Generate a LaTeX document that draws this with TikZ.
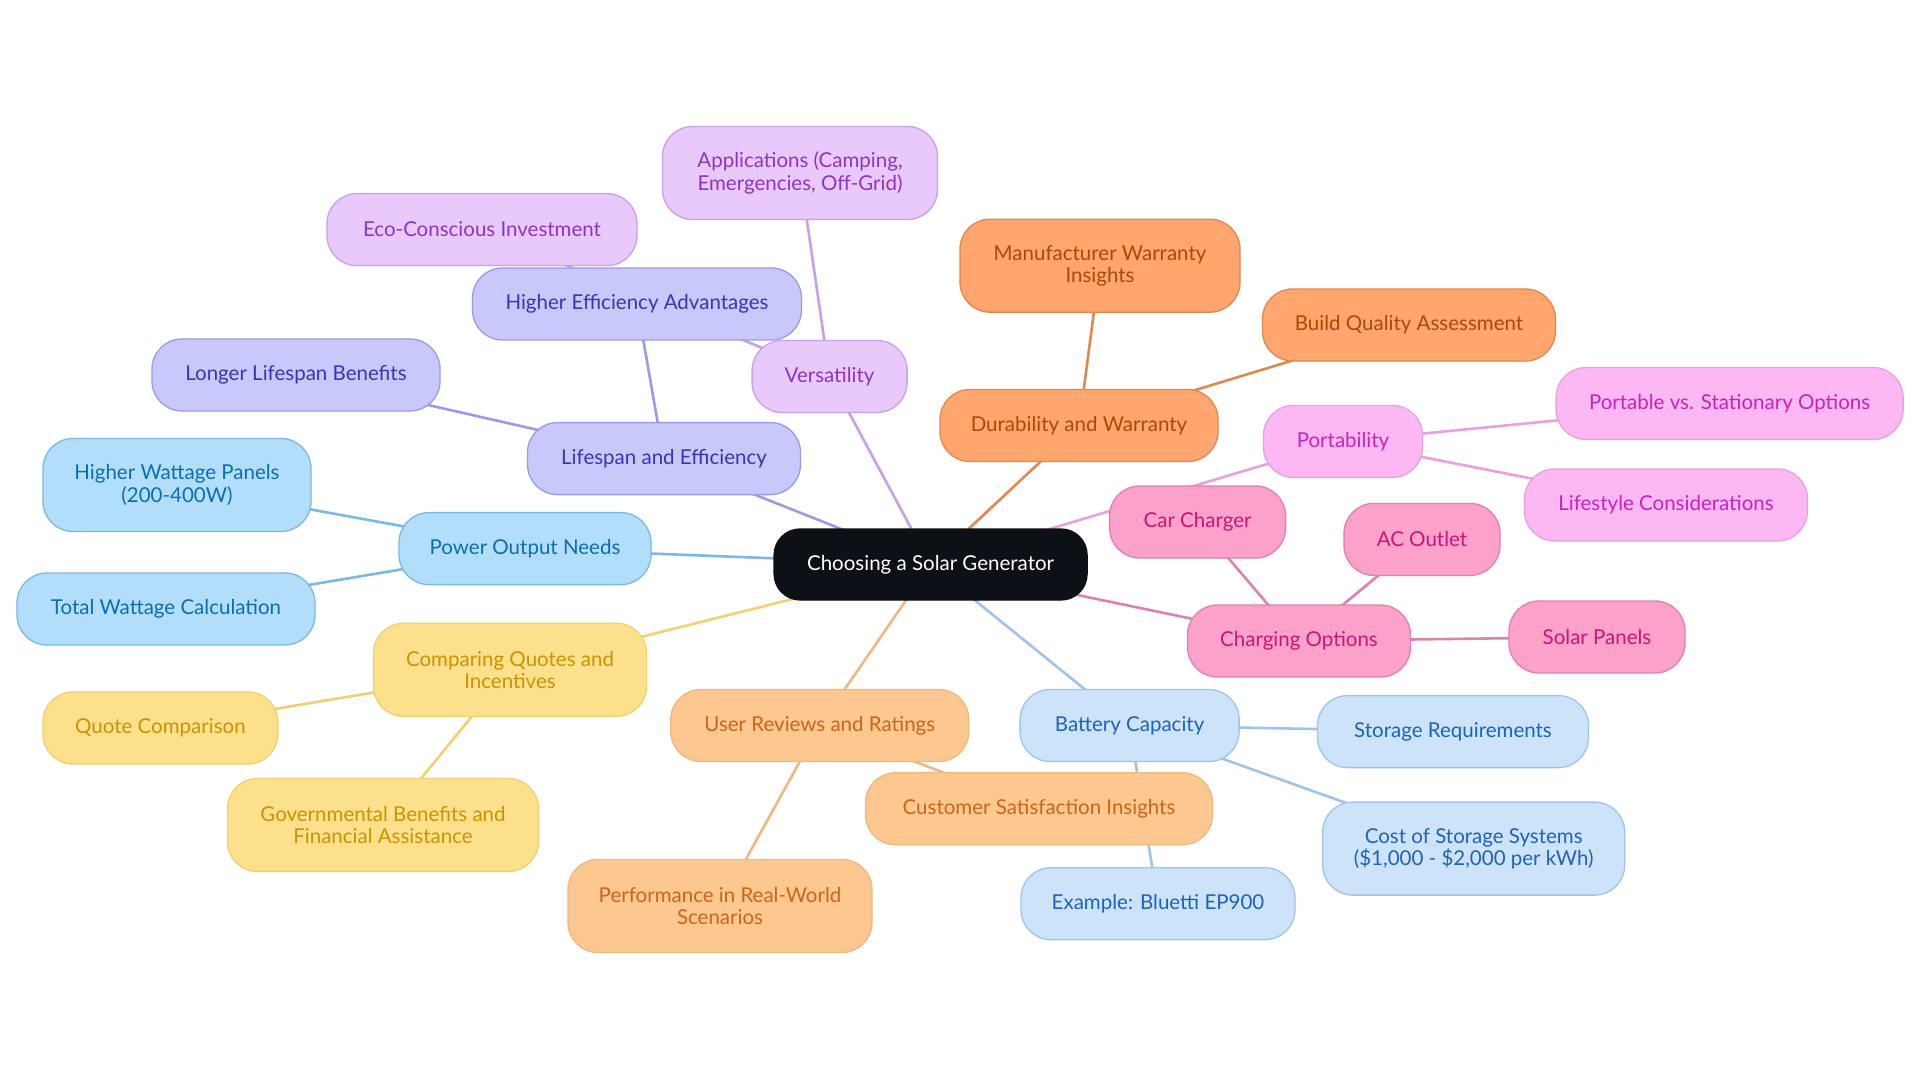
\documentclass[tikz,border=0pt]{standalone}
\usepackage{fontspec}
\setmainfont{Lato}
\usetikzlibrary{backgrounds}
\definecolor{cdark}{HTML}{0D1117}
\definecolor{bluF}{HTML}{B3DEFB}\definecolor{bluD}{HTML}{7AB8E6}\definecolor{bluT}{HTML}{0B6DB3}
\definecolor{indF}{HTML}{C8C8FA}\definecolor{indD}{HTML}{9A9AE6}\definecolor{indT}{HTML}{3A35B5}
\definecolor{vioF}{HTML}{E9C9FB}\definecolor{vioD}{HTML}{C8A0E8}\definecolor{vioT}{HTML}{8E34C4}
\definecolor{orgF}{HTML}{FFA56E}\definecolor{orgD}{HTML}{E08850}\definecolor{orgT}{HTML}{A84A0A}
\definecolor{magF}{HTML}{FDB8F4}\definecolor{magD}{HTML}{E8A0E0}\definecolor{magT}{HTML}{C424B8}
\definecolor{pnkF}{HTML}{FCA2CA}\definecolor{pnkD}{HTML}{E080B0}\definecolor{pnkT}{HTML}{C8157A}
\definecolor{lbuF}{HTML}{CCE3FA}\definecolor{lbuD}{HTML}{9EC4EC}\definecolor{lbuT}{HTML}{1D64B8}
\definecolor{lorF}{HTML}{FDC890}\definecolor{lorD}{HTML}{F0B880}\definecolor{lorT}{HTML}{C8661A}
\definecolor{yelF}{HTML}{FDE08C}\definecolor{yelD}{HTML}{F0D070}\definecolor{yelT}{HTML}{C99400}
\tikzset{
  box/.style={draw, line width=1.3pt, rounded corners=30pt, align=center, inner sep=0pt,
    minimum height=72pt, font=\fontsize{20.5}{22.5}\selectfont},
  bluN/.style={box, fill=bluF, draw=bluD, text=bluT},
  indN/.style={box, fill=indF, draw=indD, text=indT},
  vioN/.style={box, fill=vioF, draw=vioD, text=vioT},
  orgN/.style={box, fill=orgF, draw=orgD, text=orgT},
  magN/.style={box, fill=magF, draw=magD, text=magT},
  pnkN/.style={box, fill=pnkF, draw=pnkD, text=pnkT},
  lbuN/.style={box, fill=lbuF, draw=lbuD, text=lbuT},
  lorN/.style={box, fill=lorF, draw=lorD, text=lorT},
  yelN/.style={box, fill=yelF, draw=yelD, text=yelT},
  tall/.style={minimum height=93pt},
  edge/.style={line width=2.6pt},
}
\begin{document}
\begin{tikzpicture}[x=1pt,y=-1pt]
\useasboundingbox (0,0) rectangle (1920,1083);
% center
\node[box, fill=cdark, draw=cdark, text=white, minimum width=313, minimum height=71, rounded corners=26pt] (c) at (930.6,564.5) {Choosing a Solar Generator};
% power output
\node[bluN, minimum width=252] (pow) at (525,548.6) {Power Output Needs};
\node[bluN, tall, minimum width=268] (hwp) at (177,485) {Higher Wattage Panels\\(200-400W)};
\node[bluN, minimum width=298] (twc) at (166,609) {Total Wattage Calculation};
% lifespan
\node[indN, minimum width=273] (life) at (664,458.6) {Lifespan and Efficiency};
\node[indN, minimum width=288] (llb) at (296,375) {Longer Lifespan Benefits};
\node[indN, minimum width=329] (hea) at (637,304) {Higher Efficiency Advantages};
% versatility
\node[vioN, minimum width=310] (eco) at (482,229.6) {Eco-Conscious Investment};
\node[vioN, minimum width=155] (ver) at (829.6,376.5) {Versatility};
\node[vioN, tall, minimum width=275] (app) at (800,173) {Applications (Camping,\\Emergencies, Off-Grid)};
% durability
\node[orgN, minimum width=278] (dur) at (1079,425.5) {Durability and Warranty};
\node[orgN, tall, minimum width=280] (mwi) at (1100,265.7) {Manufacturer Warranty\\Insights};
\node[orgN, minimum width=293] (bqa) at (1409,325) {Build Quality Assessment};
% portability
\node[magN, minimum width=159] (por) at (1343,441.4) {Portability};
\node[magN, minimum width=347] (pvs) at (1729.6,403.5) {Portable vs. Stationary Options};
\node[magN, minimum width=283] (lsc) at (1666,505) {Lifestyle Considerations};
% charging
\node[pnkN, minimum width=223] (cho) at (1299,641) {Charging Options};
\node[pnkN, minimum width=176] (car) at (1197.6,522) {Car Charger};
\node[pnkN, minimum width=156] (aco) at (1422,539.4) {AC Outlet};
\node[pnkN, minimum width=176] (sol) at (1597,637) {Solar Panels};
% battery
\node[lbuN, minimum width=219] (bat) at (1129.6,725.5) {Battery Capacity};
\node[lbuN, minimum width=271] (str) at (1453,731.6) {Storage Requirements};
\node[lbuN, tall, minimum width=302] (cos) at (1473.7,848.6) {Cost of Storage Systems\\(\$1,000 - \$2,000 per kWh)};
\node[lbuN, minimum width=274] (exb) at (1158,903.7) {Example: Bluetti EP900};
% user reviews
\node[lorN, minimum width=298] (usr) at (819.8,725.5) {User Reviews and Ratings};
\node[lorN, minimum width=347] (csi) at (1039,808.8) {Customer Satisfaction Insights};
\node[lorN, tall, minimum width=304] (prf) at (720,906) {Performance in Real-World\\Scenarios};
% comparing
\node[yelN, tall, minimum width=273] (cmp) at (510,669.8) {Comparing Quotes and\\Incentives};
\node[yelN, minimum width=235] (qco) at (160.4,728) {Quote Comparison};
\node[yelN, tall, minimum width=311] (gov) at (383,825) {Governmental Benefits and\\Financial Assistance};
% edges
\begin{scope}[on background layer]
\fill[white] (0,0) rectangle (1920,1083);
\draw[edge, bluD] (c.center) -- (pow.center);
\draw[edge, bluD] (pow.center) -- (hwp.center);
\draw[edge, bluD] (pow.center) -- (twc.center);
\draw[edge, indD] (c.center) -- (life.center);
\draw[edge, indD] (life.center) -- (llb.center);
\draw[edge, indD] (life.center) -- (hea.center);
\draw[edge, vioD] (c.center) -- (ver.center);
\draw[edge, vioD] (ver.center) -- (app.center);
\draw[edge, vioD] (ver.center) -- (eco.center);
\draw[edge, orgD] (c.center) -- (dur.center);
\draw[edge, orgD] (dur.center) -- (mwi.center);
\draw[edge, orgD] (dur.center) -- (bqa.center);
\draw[edge, magD] (c.center) -- (por.center);
\draw[edge, magD] (por.center) -- (pvs.center);
\draw[edge, magD] (por.center) -- (lsc.center);
\draw[edge, pnkD] (c.center) -- (cho.center);
\draw[edge, pnkD] (cho.center) -- (car.center);
\draw[edge, pnkD] (cho.center) -- (aco.center);
\draw[edge, pnkD] (cho.center) -- (sol.center);
\draw[edge, lbuD] (c.center) -- (bat.center);
\draw[edge, lbuD] (bat.center) -- (str.center);
\draw[edge, lbuD] (bat.center) -- (cos.center);
\draw[edge, lbuD] (bat.center) -- (exb.center);
\draw[edge, lorD] (c.center) -- (usr.center);
\draw[edge, lorD] (usr.center) -- (csi.center);
\draw[edge, lorD] (usr.center) -- (prf.center);
\draw[edge, yelD] (c.center) -- (cmp.center);
\draw[edge, yelD] (cmp.center) -- (qco.center);
\draw[edge, yelD] (cmp.center) -- (gov.center);
\end{scope}
\end{tikzpicture}
\end{document}
